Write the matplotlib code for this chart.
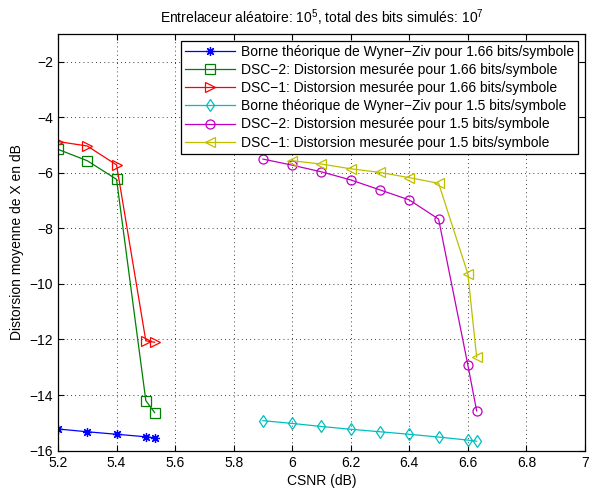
import numpy as np
import matplotlib
matplotlib.use("Agg")
import matplotlib.pyplot as plt

plt.rcParams['font.family'] = ['Liberation Sans', 'DejaVu Sans']
plt.rcParams['mathtext.fontset'] = 'custom'
plt.rcParams['mathtext.rm'] = 'Liberation Sans'

# 1.66 bits/symbole
x_166 = [5.2, 5.3, 5.4, 5.5, 5.53]
wz_166 = [-15.22, -15.32, -15.41, -15.50, -15.54]
dsc2_166 = [-5.16, -5.57, -6.24, -14.20, -14.63]
dsc1_166 = [-4.88, -5.04, -5.72, -12.05, -12.10]

# 1.5 bits/symbole
x_15 = [5.9, 6.0, 6.1, 6.2, 6.3, 6.4, 6.5, 6.6, 6.63]
wz_15 = [-14.92, -15.02, -15.13, -15.23, -15.32, -15.41, -15.51, -15.62, -15.66]
dsc2_15 = [-5.51, -5.73, -5.97, -6.26, -6.62, -6.98, -7.67, -12.92, -14.57]
x_15b = [6.0, 6.1, 6.2, 6.3, 6.4, 6.5, 6.6, 6.63]
dsc1_15 = [-5.57, -5.69, -5.86, -5.99, -6.18, -6.38, -9.64, -12.64]

labels = [
    "Borne théorique de Wyner\u2212Ziv pour 1.66 bits/symbole",
    "DSC\u22122: Distorsion mesurée pour 1.66 bits/symbole",
    "DSC\u22121: Distorsion mesurée pour 1.66 bits/symbole",
    "Borne théorique de Wyner\u2212Ziv pour 1.5 bits/symbole",
    "DSC\u22122: Distorsion mesurée pour 1.5 bits/symbole",
    "DSC\u22121: Distorsion mesurée pour 1.5 bits/symbole",
]

fig = plt.figure(figsize=(5.9, 4.92), dpi=100)
ax = fig.add_axes([0.0983, 0.084, 0.8932, 0.8475])

kw = dict(linewidth=0.9, markersize=6.5, markerfacecolor='none', markeredgewidth=0.9)
ax.plot(x_166, wz_166, '-', marker=(8, 2, 0), color=(0, 0, 1), label=labels[0], **kw)
ax.plot(x_166, dsc2_166, 's-', color=(0, 0.5, 0), label=labels[1], **kw)
ax.plot(x_166, dsc1_166, '>-', color=(1, 0, 0), label=labels[2], **kw)
ax.plot(x_15, wz_15, 'd-', color=(0, 0.75, 0.75), label=labels[3], **kw)
ax.plot(x_15, dsc2_15, 'o-', color=(0.75, 0, 0.75), label=labels[4], **kw)
ax.plot(x_15b, dsc1_15, '<-', color=(0.75, 0.75, 0), label=labels[5], **kw)

ax.set_xlim(5.2, 7)
ax.set_ylim(-16, -1)
ax.set_xticks(np.arange(5.2, 7.01, 0.2))
ax.set_xticklabels(["5.2", "5.4", "5.6", "5.8", "6", "6.2", "6.4", "6.6", "6.8", "7"])
ax.set_yticks(np.arange(-16, -1, 2))
ax.tick_params(direction='in', top=True, right=True, labelsize=10, length=4)
ax.grid(True, linestyle=(0, (1, 4)), color='black', linewidth=0.6)
for s in ax.spines.values():
    s.set_linewidth(0.9)

ax.set_xlabel("CSNR (dB)", fontsize=10, labelpad=3)
ax.set_ylabel("Distorsion moyenne de X en dB", fontsize=10, labelpad=4)
ax.set_title(r"Entrelaceur aléatoire: 10$^5$, total des bits simulés: 10$^7$", fontsize=10, pad=8)

leg = ax.legend(loc='upper right', fontsize=10, frameon=True, fancybox=False,
                edgecolor='black', framealpha=1, borderpad=0.3, labelspacing=0.3,
                handlelength=3.6, handletextpad=0.4, borderaxespad=0.5)
leg.get_frame().set_linewidth(0.9)

fig.savefig("out.png", dpi=100)
